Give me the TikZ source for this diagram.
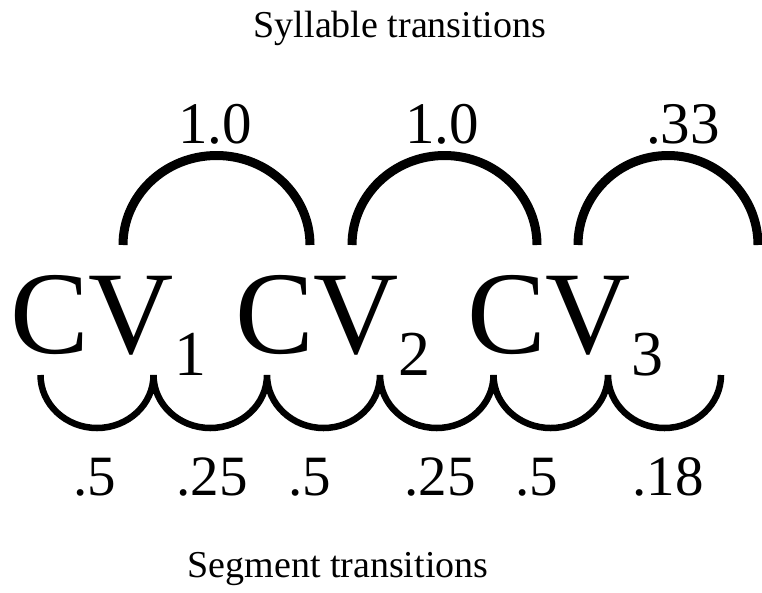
\documentclass[tikz,border=0pt]{standalone}
\usepackage{fontspec}
\setmainfont{Liberation Serif}
\begin{document}
\begin{tikzpicture}[x=1pt,y=-1pt,
  title/.style={font=\fontsize{38}{40}\selectfont, anchor=base, inner sep=0pt},
  cvtext/.style={font=\fontsize{118}{120}\selectfont, anchor=base, inner sep=0pt},
  subtext/.style={font=\fontsize{64}{66}\selectfont, anchor=base, inner sep=0pt},
  prob/.style={font=\fontsize{59}{61}\selectfont, anchor=base, inner sep=0pt},
  segprob/.style={font=\fontsize{57}{59}\selectfont, anchor=base, inner sep=0pt},
  sylarc/.style={line width=9pt, line cap=butt},
  segarc/.style={line width=6.5pt, line cap=butt, line join=miter}]
\useasboundingbox (0,0) rectangle (762,592);
\clip (0,0) rectangle (762,592);

% titles
\node[title] (tsyl) at (400,37) {Syllable transitions};
\node[title] (tseg) at (338,577) {Segment transitions};

% CV syllables
\node[cvtext] (cv1) at (92,353) {CV};
\node[subtext] (s1) at (190,375) {1};
\node[cvtext] (cv2) at (317,353) {CV};
\node[subtext] (s2) at (414,375) {2};
\node[cvtext] (cv3) at (549,353) {CV};
\node[subtext] (s3) at (647,375) {3};

% syllable transition arcs
\coordinate (a1) at (123,245);
\coordinate (a2) at (352,245);
\coordinate (a3) at (578,245);
\draw[sylarc] (a1) arc[start angle=180, end angle=360, x radius=93.5, y radius=89.5];
\draw[sylarc] (a2) arc[start angle=180, end angle=360, x radius=92.5, y radius=89.5];
\draw[sylarc] (a3) arc[start angle=180, end angle=360, x radius=90, y radius=89.5];

\node[prob] (p1) at (215,143) {1.0};
\node[prob] (p2) at (442,143) {1.0};
\node[prob] (p3) at (683,143) {.33};

% segment transition arcs
\coordinate (b0) at (40.5,375);
\coordinate (b1) at (153.5,375);
\coordinate (b2) at (267,375);
\coordinate (b3) at (380,375);
\coordinate (b4) at (493.5,375);
\coordinate (b5) at (608,375);
\coordinate (b6) at (721,375);
\draw[segarc] (b0) arc[start angle=180, end angle=0, x radius=56.5, y radius=53]
  arc[start angle=180, end angle=0, x radius=56.75, y radius=53]
  arc[start angle=180, end angle=0, x radius=56.5, y radius=53]
  arc[start angle=180, end angle=0, x radius=56.75, y radius=53]
  arc[start angle=180, end angle=0, x radius=57.25, y radius=53]
  arc[start angle=180, end angle=0, x radius=56.5, y radius=53];

\node[segprob] (q1) at (95,495) {.5};
\node[segprob] (q2) at (212,495) {.25};
\node[segprob] (q3) at (310,495) {.5};
\node[segprob] (q4) at (440,495) {.25};
\node[segprob] (q5) at (537,495) {.5};
\node[segprob] (q6) at (668,495) {.18};
\end{tikzpicture}
\end{document}
